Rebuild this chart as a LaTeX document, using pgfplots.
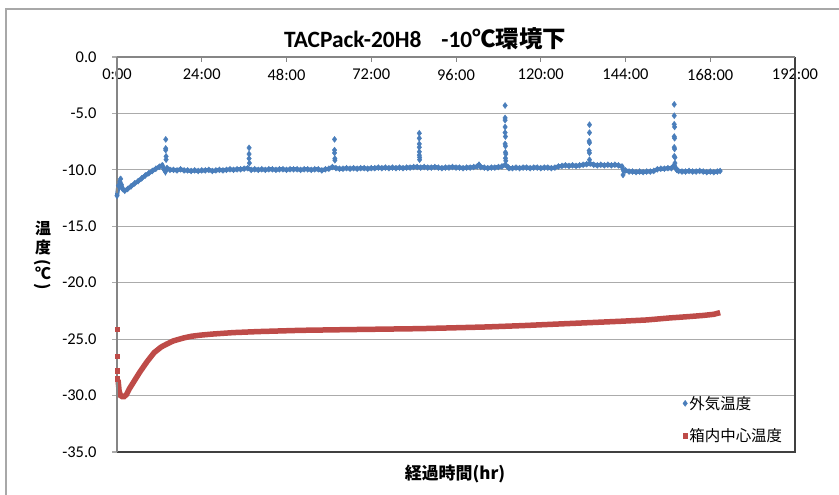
\documentclass[border=0pt]{standalone}
\usepackage{fontspec}
\usepackage{pgfplots}
\usepackage{pgfplotstable}
\pgfplotsset{compat=1.18}
\setmainfont{Carlito}
\newfontfamily\jp{Noto Sans CJK JP}
\definecolor{serA}{HTML}{4A7EBB}
\definecolor{serB}{HTML}{BE4B48}
\definecolor{gridc}{HTML}{ABABAB}
\definecolor{axc}{HTML}{868686}
\definecolor{boxc}{HTML}{404040}
\definecolor{framec}{HTML}{A8A8A8}

\pgfplotstableread{
t T
0 -12.3
0.4 -11.4
0.8 -11.05
1.2 -11.3
1.6 -11.7
2.2 -11.85
3 -11.7
4 -11.45
5 -11.2
6 -11.0
7 -10.75
8 -10.5
9 -10.3
10 -10.1
11 -9.9
12 -9.72
12.8 -9.6
13.3 -9.95
13.7 -10.15
14.2 -9.85
15 -10.0
16 -10.0
17 -10.05
18 -9.95
19 -10.05
20 -10.05
21 -10.1
22 -10.05
23 -10.1
24 -10.05
25 -10.05
26 -10.0
27 -10.1
28 -10.05
29 -10.0
30 -10.05
31 -10.0
32 -9.95
33 -10.0
34 -9.95
35 -9.95
36 -9.9
37 -9.85
38 -10.0
39 -9.95
40 -10.0
41 -9.95
42 -10.0
43 -9.95
44 -9.95
45 -10.0
46 -9.95
47 -9.95
48 -10.0
49 -9.95
50 -9.95
51 -9.95
52 -10.0
53 -9.95
54 -9.95
55 -10.0
56 -9.95
57 -9.95
58 -10.05
59 -9.95
60 -9.9
61 -9.75
62 -9.85
63 -9.9
64 -9.9
65 -9.85
66 -9.9
67 -9.85
68 -9.9
69 -9.85
70 -9.85
71 -9.9
72 -9.85
73 -9.85
74 -9.8
75 -9.85
76 -9.8
77 -9.85
78 -9.8
79 -9.85
80 -9.8
81 -9.85
82 -9.8
83 -9.8
84 -9.75
85 -9.75
86 -9.8
87 -9.75
88 -9.8
89 -9.8
90 -9.75
91 -9.8
92 -9.85
93 -9.8
94 -9.8
95 -9.75
96 -9.8
97 -9.8
98 -9.85
99 -9.8
100 -9.8
101 -9.75
102 -9.7
102.5 -9.55
103 -9.75
104 -9.8
105 -9.85
106 -9.8
107 -9.8
108 -9.75
109 -9.7
110 -9.55
110.7 -9.75
111 -9.85
112 -9.85
113 -9.8
114 -9.85
115 -9.8
116 -9.8
117 -9.85
118 -9.8
119 -9.8
120 -9.85
121 -9.8
122 -9.8
123 -9.85
124 -9.8
125 -9.7
126 -9.65
127 -9.6
128 -9.65
129 -9.6
130 -9.65
131 -9.6
132 -9.55
133 -9.5
134 -9.45
135 -9.55
136 -9.6
137 -9.55
138 -9.6
139 -9.55
140 -9.6
141 -9.55
142 -9.6
143 -9.7
143.5 -10.1
144 -10.05
145 -10.15
146 -10.15
147 -10.2
148 -10.15
149 -10.2
150 -10.15
151 -10.15
152 -10.1
153 -9.95
154 -9.9
155 -9.9
156 -9.85
157 -9.85
157.8 -9.6
158.5 -10.0
159 -10.1
160 -10.15
161 -10.15
162 -10.1
163 -10.15
164 -10.15
165 -10.1
166 -10.15
167 -10.2
168 -10.15
169 -10.2
170 -10.15
170.8 -10.1
}\blueBase

\pgfplotstableread{
t T
1.05 -10.8
13.8 -7.3
13.8 -8.1
13.8 -8.25
13.9 -8.8
13.9 -9.1
37.4 -8.05
37.4 -8.6
37.4 -9.0
37.5 -9.4
61.6 -7.3
61.6 -8.25
61.6 -8.5
61.7 -9.0
61.7 -9.15
85.6 -6.76
85.6 -7.2
85.6 -7.7
85.6 -8.0
85.6 -8.4
85.6 -8.7
85.7 -8.9
85.7 -9.1
109.9 -4.3
109.9 -5.4
109.9 -5.6
109.9 -6.2
109.9 -6.7
110.0 -7.05
109.9 -7.7
110.0 -7.9
110.0 -8.45
110.1 -8.6
110.0 -8.97
110.1 -9.2
133.8 -6.0
133.8 -6.7
133.7 -7.45
133.8 -7.6
133.7 -8.3
133.8 -8.5
133.8 -9.1
143.3 -10.45
157.8 -4.2
157.8 -5.2
157.8 -5.96
157.9 -6.2
157.8 -7.05
157.9 -7.2
157.8 -8.0
157.9 -8.15
157.8 -8.8
158.0 -8.9
158.0 -9.4
}\blueSpikes

\pgfplotstableread{
t T
0.3 -28.6
0.6 -29.6
1.0 -30.0
1.5 -30.1
2.0 -30.1
2.7 -29.9
3.5 -29.4
4.5 -28.9
5.5 -28.4
6.5 -27.9
7.5 -27.45
8.5 -27.0
9.5 -26.6
10.5 -26.2
11.5 -25.95
12.5 -25.7
14 -25.45
16 -25.15
18.8 -24.9
21 -24.75
23.5 -24.65
27 -24.55
33 -24.42
40 -24.33
52 -24.22
67 -24.15
86 -24.07
95 -24.0
104.7 -23.92
115 -23.8
123.5 -23.68
133 -23.55
142.4 -23.42
150 -23.3
156.6 -23.12
162 -23.0
166 -22.9
169 -22.8
170.8 -22.65
}\redLine

\pgfplotstableread{
t T
0 -24.1
0 -26.5
0 -27.8
0.05 -28.5
}\redStart

\begin{document}
\begin{tikzpicture}[x=1bp,y=1bp]
\useasboundingbox (0,0) rectangle (839,495);
% outer chart frame
\draw[framec, line width=1.3bp] (6,-20) -- (6,486) -- (860,486);
\begin{axis}[
  at={(117bp,43bp)}, anchor=south west,
  width=678bp, height=395bp, scale only axis,
  xmin=0, xmax=192, ymin=-35, ymax=0,
  clip=false,
  axis line style={draw=none},
  xtick={0,24,...,192},
  xticklabels={0:00,24:00,48:00,72:00,96:00,120:00,144:00,168:00,192:00},
  xtick pos=right, xticklabel pos=right,
  ytick={-35,-30,...,0},
  yticklabels={-35.0,-30.0,-25.0,-20.0,-15.0,-10.0,-5.0,0.0},
  ytick pos=left,
  tick align=inside,
  major tick length=5bp,
  xtick style={axc, line width=1bp},
  ytick style={gridc, line width=1.2bp, xshift=-5bp},
  ymajorgrids,
  major grid style={gridc, line width=1.2bp},
  ticklabel style={font=\fontsize{16.5}{19}\selectfont, text=black},
  xticklabel style={anchor=north, yshift=-8.5bp},
  yticklabel style={anchor=east, xshift=-17bp},
  legend style={at={(0.83,0.152)}, anchor=north west, draw=none, fill=none,
    font=\jp\fontsize{15.5}{18}\selectfont, row sep=14bp},
  legend cell align=left,
]
\addplot[serA, line width=4.2bp, forget plot] table {\blueBase};
\addplot[only marks, mark=diamond*, mark size=3bp, color=serA] table {\blueBase};
\addplot[only marks, mark=diamond*, mark size=3bp, color=serA, forget plot] table {\blueSpikes};
\addplot[serB, line width=5.5bp, forget plot] table {\redLine};
\addplot[only marks, mark=square*, mark size=2.2bp, color=serB] table {\redStart};
\legend{外気温度,箱内中心温度}
\draw[boxc, line width=1.6bp] (rel axis cs:0,0) -- (rel axis cs:1,0) -- (rel axis cs:1,1);
\draw[axc, line width=1.3bp] (rel axis cs:0,1) -- (rel axis cs:1,1);
\draw[axc, line width=2bp] (rel axis cs:0,0) -- (rel axis cs:0,1);
\end{axis}
% title
\node[anchor=center] at (425,456) {\bfseries\fontsize{23.5}{28}\selectfont TACPack-20H8\hspace{20bp}-10{\jp\bfseries ℃環境下}};
% x label
\node[anchor=center] at (455,21) {\jp\bfseries\fontsize{17}{20}\selectfont 経過時間(hr)};
% y label (stacked)
\begin{scope}[every node/.style={anchor=center, inner sep=0pt, font=\jp\bfseries\fontsize{16}{18}\selectfont}]
\node at (43,267) {温};
\node at (43,248) {度};
\node[rotate=-90] at (43,232) {(};
\node at (43,222) {℃};
\node[rotate=-90] at (43,208) {)};
\end{scope}
\end{tikzpicture}
\end{document}
